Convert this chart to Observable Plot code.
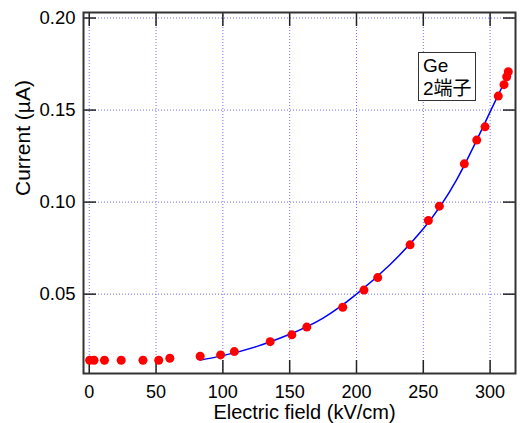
<!DOCTYPE html>
<html>
<head>
<meta charset="utf-8">
<script src="https://cdn.jsdelivr.net/npm/d3@7"></script>
<script src="https://cdn.jsdelivr.net/npm/@observablehq/plot@0.6"></script>
<style>
  html, body { margin: 0; padding: 0; background: #fff; }
  #wrap { position: relative; width: 520px; height: 423px; }
  #legend {
    position: absolute; left: 418px; top: 52px; width: 52px; height: 46px;
    border: 1px solid #333; background: #fff;
    font-family: "Liberation Sans", "Noto Sans CJK JP", sans-serif; font-size: 19px;
    line-height: 23px; padding: 1px 0 0 4px; box-sizing: content-box; color: #000;
  }
</style>
</head>
<body>
<div id="wrap"></div>
<script>
// Measured points
const fieldKV = [0.3, 3.6, 11.4, 23.9, 40.2, 52.0, 60.3, 83.0, 98.3, 108.6, 135.4, 151.6, 162.8, 189.7, 205.6, 215.9, 240.1, 253.8, 262.0, 280.7, 290.0, 296.2, 306.1, 310.4, 312.4, 313.6];
const currentUA = [0.0141, 0.0141, 0.0141, 0.0141, 0.0141, 0.0141, 0.0152, 0.0163, 0.0170, 0.0188, 0.0242, 0.0279, 0.0321, 0.0429, 0.0522, 0.0590, 0.0768, 0.0900, 0.0978, 0.1208, 0.1337, 0.1409, 0.1576, 0.1638, 0.1681, 0.1708];
// Fit curve
const fitX = [83, 100, 125, 150, 175, 200, 225, 250, 275, 300, 315];
const fitY = [0.0142, 0.0166, 0.0215, 0.0282, 0.0370, 0.0500, 0.0660, 0.0855, 0.1122, 0.1490, 0.1715];
// Ticks
const xTicks = [0, 50, 100, 150, 200, 250, 300];
const yTicks = [0.05, 0.10, 0.15, 0.20];
const xTitle = "Electric field (kV/cm)";
const yTitle = "Current (µA)";
const legendLines = ["Ge", "2端子"];

const points = fieldKV.map((x, i) => ({x, y: currentUA[i]}));
const fit = fitX.map((x, i) => ({x, y: fitY[i]}));

const font = "'Liberation Sans', Arial, 'Noto Sans CJK JP', sans-serif";
const tickColor = "#222";

const chart = Plot.plot({
  width: 520,
  height: 423,
  marginLeft: 83,
  marginRight: 5,
  marginTop: 12,
  marginBottom: 50,
  style: {fontFamily: font, fontSize: "18px", color: "#000", background: "#fff"},
  x: {domain: [-4.3, 319], ticks: xTicks},
  y: {domain: [0.0069, 0.203], ticks: yTicks},
  marks: [
    Plot.gridX(xTicks, {stroke: "#6f6fff", strokeOpacity: 1, strokeDasharray: "1,2"}),
    Plot.gridY(yTicks, {stroke: "#6f6fff", strokeOpacity: 1, strokeDasharray: "1,2"}),
    // inward ticks on all four sides
    Plot.axisX(xTicks, {anchor: "bottom", tickSize: -13, tickFormat: () => "", label: null, stroke: tickColor, strokeWidth: 1.5}),
    Plot.axisX(xTicks, {anchor: "top", tickSize: -13, tickFormat: () => "", label: null, stroke: tickColor, strokeWidth: 1.5}),
    Plot.axisY(yTicks, {anchor: "left", tickSize: -13, tickFormat: () => "", label: null, stroke: tickColor, strokeWidth: 1.5}),
    Plot.axisY(yTicks, {anchor: "right", tickSize: -13, tickFormat: () => "", label: null, stroke: tickColor, strokeWidth: 1.5}),
    // tick labels
    Plot.axisX(xTicks, {anchor: "bottom", tickSize: 0, tickPadding: 12, label: null, fontSize: 18, fill: "#000"}),
    Plot.axisY(yTicks, {anchor: "left", tickSize: 0, tickPadding: 8, tickFormat: d3.format(".2f"), label: null, fontSize: 18.5, fill: "#000"}),
    // fit line and data
    Plot.line(fit, {x: "x", y: "y", stroke: "#0000ff", strokeWidth: 1.5, curve: "natural"}),
    Plot.dot(points, {x: "x", y: "y", r: 4.5, fill: "#ff0000", stroke: "none"}),
    Plot.frame({stroke: "#333", strokeWidth: 2}),
    // axis titles
    Plot.text([xTitle], {text: d => d, frameAnchor: "bottom", dx: 5, dy: 39.5, lineAnchor: "middle", fontSize: 20, fill: "#000"}),
    Plot.text([yTitle], {text: d => d, frameAnchor: "left", dx: -60, dy: 3, rotate: -90, lineAnchor: "middle", fontSize: 21, fill: "#000"})
  ]
});

const wrap = document.getElementById("wrap");
wrap.appendChild(chart);
const legend = document.createElement("div");
legend.id = "legend";
legend.innerHTML = legendLines.map(s => `<div>${s}</div>`).join("");
wrap.appendChild(legend);
</script>
</body>
</html>
